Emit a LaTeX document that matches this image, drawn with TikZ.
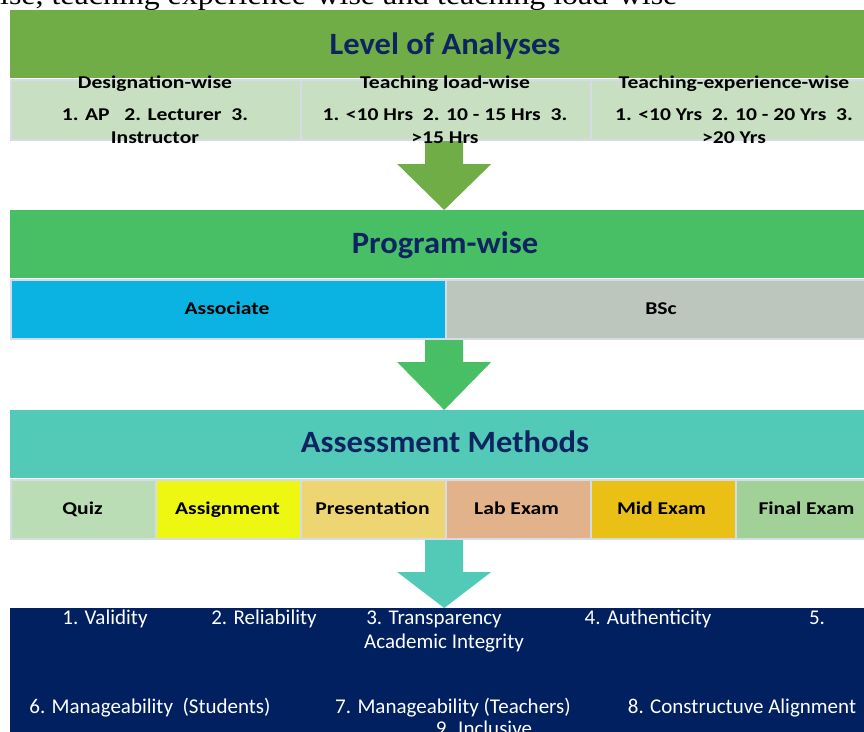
\documentclass[tikz,border=0pt]{standalone}
\usepackage{fontspec}
\setmainfont{Carlito}
\newfontfamily\serifface{Liberation Serif}
\usetikzlibrary{calc}
\pgfdeclarelayer{bg}
\pgfsetlayers{bg,main}
\definecolor{gOne}{HTML}{70AD47}
\definecolor{gTwo}{HTML}{48BF64}
\definecolor{tealc}{HTML}{53CAB7}
\definecolor{lightg}{HTML}{C8DFC1}
\definecolor{titleblue}{HTML}{0E2461}
\definecolor{assoc}{HTML}{0AB3E1}
\definecolor{bscgray}{HTML}{BCC6BD}
\definecolor{quizc}{HTML}{BBDDB6}
\definecolor{assignc}{HTML}{EEF712}
\definecolor{presc}{HTML}{EDD672}
\definecolor{labc}{HTML}{E2B28A}
\definecolor{midc}{HTML}{EBC016}
\definecolor{finalc}{HTML}{A1D197}
\definecolor{navy}{HTML}{002060}
\definecolor{cellborder}{HTML}{D5DCE6}
\newcommand{\wideC}[1]{\scalebox{1.2}[1]{#1}}
\newcommand{\wideT}[1]{\scalebox{1.05}[1]{#1}}
\begin{document}
\begin{tikzpicture}[x=1pt,y=-1pt,
  band/.style={fill=#1, minimum width=870pt, minimum height=68pt, inner sep=0pt, anchor=north west},
  cellbox/.style={fill=#1, draw=cellborder, line width=1.5pt, inner sep=0pt, anchor=north west},
  bandtitle/.style={text=titleblue, font=\bfseries\fontsize{31}{34}\selectfont, inner sep=0pt, anchor=base},
  celltext/.style={font=\bfseries\fontsize{18}{20}\selectfont, inner sep=0pt, anchor=base},
  lowtext/.style={text=white, font=\fontsize{21}{24}\selectfont, inner sep=0pt, anchor=base},
  blockarrow/.style={fill=#1}
]
\useasboundingbox (0,0) rectangle (864,731);
\clip (0,0) rectangle (864,731);

% caption fragment at top
\node[anchor=base west, inner sep=0pt, font=\serifface\fontsize{28}{30}\selectfont] (cap) at (0,4) {\scalebox{1.14}[1]{ise, teaching experience-wise and teaching load-wise}};

% Level 1
\node[band=gOne] (b1) at (10,10) {};
\node[bandtitle] (t1) at (445,54) {\wideT{Level of Analyses}};
\node[cellbox=lightg, minimum width=290pt, minimum height=60pt] (c11) at (10,79) {};
\node[cellbox=lightg, minimum width=290pt, minimum height=60pt] (c12) at (300,79) {};
\node[cellbox=lightg, minimum width=290pt, minimum height=60pt] (c13) at (590,79) {};
\node[celltext] (h11) at (155,88) {\wideC{Designation-wise}};
\node[celltext] (h12) at (445,88) {\wideC{Teaching load-wise}};
\node[celltext] (h13) at (734,88) {\wideC{Teaching-experience-wise}};
\node[celltext] (l11) at (155,120) {\wideC{1. AP\ \ \ 2. Lecturer\ \ 3.}};
\node[celltext] (l12) at (445,120) {\wideC{1. <10 Hrs\ \ 2. 10 - 15 Hrs\ \ 3.}};
\node[celltext] (l13) at (734,120) {\wideC{1. <10 Yrs\ \ 2. 10 - 20 Yrs\ \ 3.}};
\node[celltext] (m11) at (155,143) {\wideC{Instructor}};
\node[celltext] (m12) at (445,143) {\wideC{>15 Hrs}};
\node[celltext] (m13) at (734,143) {\wideC{>20 Yrs}};

% Level 2
\node[band=gTwo] (b2) at (10,210) {};
\node[bandtitle] (t2) at (445,253) {\wideT{Program-wise}};
\node[cellbox=assoc, minimum width=435pt, minimum height=59pt] (c21) at (10,279) {};
\node[cellbox=bscgray, minimum width=435pt, minimum height=59pt] (c22) at (445,279) {};
\node[celltext] (x21) at (227,314) {\wideC{Associate}};
\node[celltext] (x22) at (661,314) {\wideC{BSc}};

% Level 3
\node[band=tealc] (b3) at (10,410) {};
\node[bandtitle] (t3) at (445,452) {\wideT{Assessment Methods}};
\node[cellbox=quizc, minimum width=145pt, minimum height=59pt] (c31) at (10,479) {};
\node[cellbox=assignc, minimum width=145pt, minimum height=59pt] (c32) at (155,479) {};
\node[cellbox=presc, minimum width=145pt, minimum height=59pt] (c33) at (300,479) {};
\node[cellbox=labc, minimum width=145pt, minimum height=59pt] (c34) at (445,479) {};
\node[cellbox=midc, minimum width=145pt, minimum height=59pt] (c35) at (590,479) {};
\node[cellbox=finalc, minimum width=145pt, minimum height=59pt] (c36) at (735,479) {};
\node[celltext] (x31) at (82.5,514) {\wideC{Quiz}};
\node[celltext] (x32) at (227.5,514) {\wideC{Assignment}};
\node[celltext] (x33) at (372.5,514) {\wideC{Presentation}};
\node[celltext] (x34) at (516.5,514) {\wideC{Lab Exam}};
\node[celltext] (x35) at (661.5,514) {\wideC{Mid Exam}};
\node[celltext] (x36) at (806.5,514) {\wideC{Final Exam}};

% Bottom block
\node[fill=navy, minimum width=870pt, minimum height=140pt, inner sep=0pt, anchor=north west] (b4) at (10,608) {};
\node[lowtext] (p1) at (105,624) {1. Validity};
\node[lowtext] (p2) at (264,624) {2. Reliability};
\node[lowtext] (p3) at (434,624) {3. Transparency};
\node[lowtext] (p4) at (648,624) {4. Authenticity};
\node[lowtext] (p5) at (817,624) {5.};
\node[lowtext] (p5b) at (444,648) {Academic Integrity};
\node[lowtext] (p6) at (150,713) {6. Manageability\ \ (Students)};
\node[lowtext] (p7) at (453,713) {7. Manageability (Teachers)};
\node[lowtext] (p8) at (742,713) {8. Constructuve Alignment};
\node[lowtext] (p9) at (484,735) {9. Inclusive};

% Block arrows
\coordinate (s1) at (444,135);
\coordinate (s2) at (444,337);
\coordinate (s3) at (444,537);
\begin{pgfonlayer}{bg}
\fill[blockarrow=gOne] ($(s1)+(-19,0)$) -- ($(b2.north)+(-20,-46)$) -- ($(b2.north)+(-48,-46)$) -- ($(b2.north)+(-1,0)$) -- ($(b2.north)+(46,-46)$) -- ($(b2.north)+(18,-46)$) -- ($(s1)+(19,0)$) -- cycle;
\fill[blockarrow=gTwo] ($(s2)+(-19,0)$) -- ($(b3.north)+(-20,-48)$) -- ($(b3.north)+(-48,-48)$) -- ($(b3.north)+(-1,0)$) -- ($(b3.north)+(46,-48)$) -- ($(b3.north)+(18,-48)$) -- ($(s2)+(19,0)$) -- cycle;
\fill[blockarrow=tealc] ($(s3)+(-19,0)$) -- ($(b4.north)+(-20,-36)$) -- ($(b4.north)+(-48,-36)$) -- ($(b4.north)+(-1,0)$) -- ($(b4.north)+(46,-36)$) -- ($(b4.north)+(18,-36)$) -- ($(s3)+(19,0)$) -- cycle;
\end{pgfonlayer}
\end{tikzpicture}
\end{document}
